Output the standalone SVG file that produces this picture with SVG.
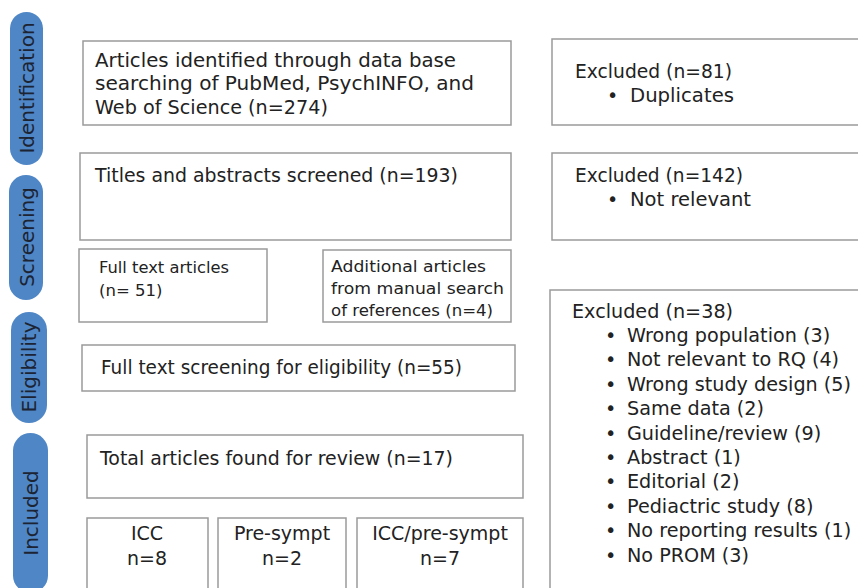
<svg xmlns="http://www.w3.org/2000/svg" width="858" height="588" viewBox="0 0 858 588">
<style>
.pill{fill:#4f86c6}
.pt{font-family:"DejaVu Sans",sans-serif;font-size:20px;fill:#1c2433;text-anchor:middle}
.box{fill:#fff;stroke:#9a9a9a;stroke-width:1.5}
.t{font-family:"DejaVu Sans",sans-serif;font-size:19px;fill:#222}
.l{font-family:"DejaVu Sans",sans-serif;font-size:19.2px;fill:#222}
.s{font-family:"DejaVu Sans",sans-serif;font-size:16.5px;fill:#222}
.c{text-anchor:middle}
</style>
<rect width="858" height="588" fill="#fff"/>
<g id="stage-identification"><rect class="pill" x="10" y="12" width="33" height="153" rx="16.5"/><text class="pt" transform="translate(34,88) rotate(-90)">Identification</text></g>
<g id="stage-screening"><rect class="pill" x="9" y="175" width="34" height="125" rx="17"/><text class="pt" transform="translate(34,237) rotate(-90)">Screening</text></g>
<g id="stage-eligibility"><rect class="pill" x="11" y="312" width="36" height="111" rx="18"/><text class="pt" transform="translate(36,367) rotate(-90)">Eligibility</text></g>
<g id="stage-included"><rect class="pill" x="13" y="433" width="35" height="160" rx="17.5"/><text class="pt" transform="translate(38,513) rotate(-90)">Included</text></g>

<g id="identified"><rect class="box" x="83" y="41" width="428" height="84"/>
<text class="t" x="95" y="67" textLength="361" lengthAdjust="spacingAndGlyphs">Articles identified through data base</text>
<text class="t" x="95" y="90" textLength="379" lengthAdjust="spacingAndGlyphs">searching of PubMed, PsychINFO, and</text>
<text class="t" x="95" y="114" textLength="233" lengthAdjust="spacingAndGlyphs">Web of Science (n=274)</text></g>
<g id="excluded1"><rect class="box" x="552" y="39" width="310" height="86"/>
<text class="t" x="575" y="78" textLength="157" lengthAdjust="spacingAndGlyphs">Excluded (n=81)</text>
<text class="t" x="607" y="102">•</text><text class="t" x="630" y="102" textLength="104" lengthAdjust="spacingAndGlyphs">Duplicates</text></g>
<g id="screened"><rect class="box" x="80" y="153" width="431" height="87"/>
<text class="t" x="95" y="182" textLength="363" lengthAdjust="spacingAndGlyphs">Titles and abstracts screened (n=193)</text></g>
<g id="excluded2"><rect class="box" x="552" y="153" width="310" height="87"/>
<text class="t" x="575" y="182" textLength="168" lengthAdjust="spacingAndGlyphs">Excluded (n=142)</text>
<text class="t" x="607" y="206">•</text><text class="t" x="630" y="206" textLength="121" lengthAdjust="spacingAndGlyphs">Not relevant</text></g>
<g id="fulltext"><rect class="box" x="79" y="249" width="188" height="73"/>
<text class="s" x="99" y="273" textLength="130" lengthAdjust="spacingAndGlyphs">Full text articles</text>
<text class="s" x="99" y="296">(n= 51)</text></g>
<g id="additional"><rect class="box" x="323" y="250" width="188" height="72"/>
<text class="s" x="331" y="272" textLength="155" lengthAdjust="spacingAndGlyphs">Additional articles</text>
<text class="s" x="331" y="294" textLength="173" lengthAdjust="spacingAndGlyphs">from manual search</text>
<text class="s" x="331" y="316" textLength="162" lengthAdjust="spacingAndGlyphs">of references (n=4)</text></g>
<g id="eligibility"><rect class="box" x="82" y="345" width="433" height="46"/>
<text class="t" x="101" y="374" textLength="361" lengthAdjust="spacingAndGlyphs">Full text screening for eligibility (n=55)</text></g>
<g id="excluded3"><rect class="box" x="550" y="290" width="312" height="310"/>
<text class="l" x="572" y="318">Excluded (n=38)</text>
<g class="l">
<text x="605" y="342">•</text><text x="627" y="342">Wrong population (3)</text>
<text x="605" y="366.4">•</text><text x="627" y="366.4">Not relevant to RQ (4)</text>
<text x="605" y="390.8">•</text><text x="627" y="390.8">Wrong study design (5)</text>
<text x="605" y="415.2">•</text><text x="627" y="415.2">Same data (2)</text>
<text x="605" y="439.6">•</text><text x="627" y="439.6">Guideline/review (9)</text>
<text x="605" y="464">•</text><text x="627" y="464">Abstract (1)</text>
<text x="605" y="488.4">•</text><text x="627" y="488.4">Editorial (2)</text>
<text x="605" y="512.8">•</text><text x="627" y="512.8">Pediactric study (8)</text>
<text x="605" y="537.2">•</text><text x="627" y="537.2">No reporting results (1)</text>
<text x="605" y="561.6">•</text><text x="627" y="561.6">No PROM (3)</text>
</g></g>
<g id="total"><rect class="box" x="87" y="435" width="436" height="63"/>
<text class="t" x="100" y="465" textLength="353" lengthAdjust="spacingAndGlyphs">Total articles found for review (n=17)</text></g>
<g id="icc"><rect class="box" x="87" y="518" width="121" height="80"/>
<text class="t c" x="147" y="540">ICC</text><text class="t c" x="147" y="565">n=8</text></g>
<g id="presympt"><rect class="box" x="218" y="518" width="128" height="80"/>
<text class="t c" x="282" y="540">Pre-sympt</text><text class="t c" x="282" y="565">n=2</text></g>
<g id="icc-presympt"><rect class="box" x="357" y="518" width="166" height="80"/>
<text class="t c" x="440" y="540">ICC/pre-sympt</text><text class="t c" x="440" y="565">n=7</text></g>
<g id="connectors"></g>
</svg>
